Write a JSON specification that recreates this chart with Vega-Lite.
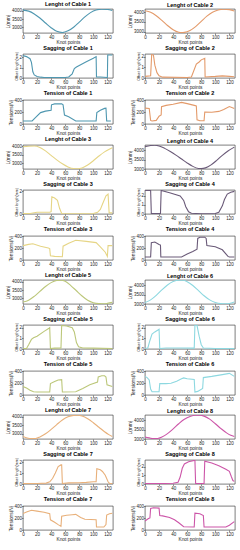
{
"$schema": "https://vega.github.io/schema/vega-lite/v6.json",
"padding": {"left": 5, "top": 1, "right": 2, "bottom": 0},
"spacing": {"row": 0, "column": 13},
"columns": 2,
"datasets": {
"L1": [{"k":0,"v":4050},{"k":8,"v":3990},{"k":16,"v":3820},{"k":24,"v":3570},{"k":32,"v":3270},{"k":40,"v":2980},{"k":48,"v":2760},{"k":56,"v":2690},{"k":64,"v":2790},{"k":72,"v":3010},{"k":80,"v":3320},{"k":88,"v":3640},{"k":96,"v":3900},{"k":104,"v":4060},{"k":112,"v":4115},{"k":120,"v":4100},{"k":127,"v":4030}],
"L2": [{"k":0,"v":4080},{"k":8,"v":4000},{"k":16,"v":3820},{"k":24,"v":3580},{"k":32,"v":3320},{"k":40,"v":3100},{"k":48,"v":2970},{"k":52,"v":2950},{"k":56,"v":2960},{"k":64,"v":3060},{"k":72,"v":3260},{"k":80,"v":3530},{"k":88,"v":3800},{"k":96,"v":4000},{"k":104,"v":4120},{"k":112,"v":4160},{"k":120,"v":4140},{"k":127,"v":4070}],
"L3": [{"k":0,"v":3960},{"k":8,"v":3990},{"k":16,"v":4000},{"k":24,"v":3920},{"k":32,"v":3720},{"k":40,"v":3460},{"k":48,"v":3200},{"k":56,"v":2970},{"k":64,"v":2790},{"k":72,"v":2690},{"k":78,"v":2680},{"k":84,"v":2730},{"k":92,"v":2900},{"k":100,"v":3150},{"k":108,"v":3420},{"k":116,"v":3660},{"k":122,"v":3800},{"k":127,"v":3900}],
"L4": [{"k":0,"v":4190},{"k":8,"v":4250},{"k":14,"v":4265},{"k":20,"v":4230},{"k":28,"v":4100},{"k":36,"v":3930},{"k":44,"v":3740},{"k":52,"v":3530},{"k":60,"v":3320},{"k":68,"v":3140},{"k":76,"v":3030},{"k":80,"v":3020},{"k":86,"v":3060},{"k":94,"v":3220},{"k":102,"v":3460},{"k":110,"v":3730},{"k":118,"v":3960},{"k":124,"v":4100},{"k":127,"v":4160}],
"L5": [{"k":0,"v":2770},{"k":8,"v":2880},{"k":16,"v":3120},{"k":24,"v":3420},{"k":32,"v":3720},{"k":40,"v":3960},{"k":48,"v":4090},{"k":54,"v":4110},{"k":60,"v":4040},{"k":68,"v":3780},{"k":76,"v":3460},{"k":84,"v":3140},{"k":92,"v":2880},{"k":100,"v":2730},{"k":108,"v":2670},{"k":114,"v":2660},{"k":120,"v":2690},{"k":127,"v":2750}],
"L6": [{"k":0,"v":3080},{"k":8,"v":3220},{"k":16,"v":3460},{"k":24,"v":3760},{"k":32,"v":4020},{"k":40,"v":4200},{"k":48,"v":4275},{"k":54,"v":4270},{"k":60,"v":4190},{"k":68,"v":3990},{"k":76,"v":3720},{"k":84,"v":3440},{"k":92,"v":3220},{"k":100,"v":3080},{"k":108,"v":3020},{"k":114,"v":3010},{"k":120,"v":3030},{"k":127,"v":3110}],
"L7": [{"k":0,"v":2830},{"k":6,"v":2740},{"k":12,"v":2700},{"k":18,"v":2710},{"k":24,"v":2800},{"k":32,"v":2990},{"k":40,"v":3250},{"k":48,"v":3540},{"k":56,"v":3810},{"k":64,"v":4000},{"k":72,"v":4090},{"k":78,"v":4100},{"k":84,"v":4050},{"k":92,"v":3890},{"k":100,"v":3650},{"k":108,"v":3380},{"k":116,"v":3110},{"k":122,"v":2940},{"k":127,"v":2830}],
"L8": [{"k":0,"v":3100},{"k":6,"v":3060},{"k":12,"v":3020},{"k":18,"v":3030},{"k":24,"v":3110},{"k":32,"v":3290},{"k":40,"v":3540},{"k":48,"v":3820},{"k":56,"v":4060},{"k":64,"v":4210},{"k":72,"v":4275},{"k":78,"v":4280},{"k":84,"v":4230},{"k":92,"v":4070},{"k":100,"v":3820},{"k":108,"v":3560},{"k":116,"v":3330},{"k":122,"v":3200},{"k":127,"v":3130}],
"S1": [{"k":0,"v":2.15},{"k":5,"v":2.05},{"k":10,"v":1.85},{"k":12,"v":1.5},{"k":14,"v":0.6},{"k":16,"v":0.3},{"k":20,"v":0.15},{"k":25,"v":0.08},{"k":30,"v":0.05},{"k":60,"v":0.05},{"k":65,"v":0.1},{"k":70,"v":0.4},{"k":73,"v":0.9},{"k":76,"v":1.05},{"k":80,"v":1.2},{"k":90,"v":1.55},{"k":100,"v":1.9},{"k":104,"v":2.05},{"k":104.5,"v":0.1},{"k":110,"v":0.1},{"k":120,"v":0.05},{"k":120.5,"v":2.2},{"k":127,"v":2.2}],
"S2": [{"k":0,"v":0.15},{"k":8,"v":0.2},{"k":9.5,"v":2.2},{"k":12,"v":2.15},{"k":14,"v":1.2},{"k":17,"v":0.5},{"k":20,"v":0.2},{"k":25,"v":0.08},{"k":60,"v":0.05},{"k":66,"v":0.1},{"k":73,"v":1.3},{"k":77,"v":1.5},{"k":80,"v":1.7},{"k":85,"v":1.85},{"k":85.5,"v":0.1},{"k":100,"v":0.15},{"k":110,"v":0.2},{"k":120,"v":0.15},{"k":127,"v":0.12}],
"S3": [{"k":0,"v":0.05},{"k":10,"v":0.05},{"k":20,"v":0.15},{"k":30,"v":0.15},{"k":38,"v":0.15},{"k":40,"v":0.2},{"k":41,"v":1.5},{"k":45,"v":1.4},{"k":49,"v":1.2},{"k":52,"v":0.5},{"k":55,"v":0.05},{"k":80,"v":0.02},{"k":100,"v":0.05},{"k":106,"v":0.15},{"k":110,"v":0.4},{"k":114,"v":1.0},{"k":118,"v":1.6},{"k":121,"v":1.75},{"k":122.5,"v":0.1},{"k":127,"v":0.1}],
"S4": [{"k":0,"v":2.6},{"k":8,"v":2.6},{"k":9,"v":0.05},{"k":22,"v":0.05},{"k":23,"v":2.6},{"k":35,"v":2.35},{"k":50,"v":2.0},{"k":55,"v":1.5},{"k":58,"v":0.8},{"k":62,"v":0.25},{"k":66,"v":0.08},{"k":80,"v":0.03},{"k":100,"v":0.05},{"k":105,"v":0.2},{"k":110,"v":0.9},{"k":113,"v":1.6},{"k":117,"v":2.2},{"k":122,"v":2.4},{"k":127,"v":2.5}],
"S5": [{"k":0,"v":0.05},{"k":5,"v":0.05},{"k":8,"v":0.4},{"k":12,"v":0.9},{"k":15,"v":1.05},{"k":20,"v":1.2},{"k":30,"v":1.65},{"k":37,"v":1.95},{"k":38,"v":2.0},{"k":39,"v":0.05},{"k":45,"v":0.08},{"k":54,"v":0.1},{"k":55,"v":2.2},{"k":62,"v":2.15},{"k":70,"v":2.0},{"k":73,"v":1.6},{"k":76,"v":0.6},{"k":79,"v":0.2},{"k":85,"v":0.1},{"k":100,"v":0.08},{"k":127,"v":0.05}],
"S6": [{"k":0,"v":0.05},{"k":4,"v":0.1},{"k":7,"v":0.8},{"k":10,"v":1.4},{"k":14,"v":1.6},{"k":19,"v":1.8},{"k":20,"v":1.85},{"k":21,"v":0.05},{"k":30,"v":0.1},{"k":50,"v":0.1},{"k":70,"v":0.08},{"k":71,"v":2.2},{"k":74,"v":2.2},{"k":77,"v":1.2},{"k":80,"v":0.4},{"k":83,"v":0.1},{"k":100,"v":0.05},{"k":127,"v":0.05}],
"S7": [{"k":0,"v":0.05},{"k":20,"v":0.05},{"k":33,"v":0.08},{"k":38,"v":0.2},{"k":42,"v":0.5},{"k":46,"v":1.0},{"k":50,"v":1.6},{"k":54,"v":1.75},{"k":55,"v":1.75},{"k":56,"v":0.05},{"k":65,"v":0.1},{"k":80,"v":0.12},{"k":90,"v":0.15},{"k":100,"v":0.2},{"k":104,"v":0.2},{"k":105,"v":1.4},{"k":110,"v":1.3},{"k":113,"v":1.15},{"k":117,"v":0.8},{"k":121,"v":0.2},{"k":123,"v":0.05},{"k":127,"v":0.05}],
"S8": [{"k":0,"v":0.05},{"k":20,"v":0.05},{"k":40,"v":0.08},{"k":47,"v":0.2},{"k":50,"v":0.8},{"k":53,"v":1.8},{"k":56,"v":2.3},{"k":62,"v":2.55},{"k":70,"v":2.7},{"k":71,"v":2.7},{"k":72,"v":0.05},{"k":84,"v":0.05},{"k":85,"v":2.6},{"k":95,"v":2.4},{"k":105,"v":2.1},{"k":115,"v":1.7},{"k":120,"v":1.45},{"k":123,"v":0.8},{"k":125,"v":0.4},{"k":127,"v":0.3}],
"T1": [{"k":0,"v":50},{"k":13,"v":50},{"k":18,"v":110},{"k":25,"v":190},{"k":32,"v":215},{"k":40,"v":230},{"k":40.5,"v":320},{"k":45,"v":335},{"k":55,"v":335},{"k":57,"v":320},{"k":59,"v":150},{"k":65,"v":120},{"k":75,"v":50},{"k":104,"v":50},{"k":105,"v":190},{"k":110,"v":230},{"k":116,"v":260},{"k":118,"v":265},{"k":119,"v":50},{"k":125,"v":50}],
"T2": [{"k":0,"v":265},{"k":6,"v":260},{"k":8,"v":60},{"k":10,"v":50},{"k":16,"v":60},{"k":20,"v":130},{"k":23,"v":150},{"k":23.5,"v":290},{"k":30,"v":310},{"k":40,"v":330},{"k":52,"v":360},{"k":60,"v":340},{"k":70,"v":310},{"k":73,"v":300},{"k":74,"v":70},{"k":78,"v":55},{"k":84,"v":55},{"k":85,"v":200},{"k":95,"v":195},{"k":105,"v":210},{"k":112,"v":240},{"k":120,"v":290},{"k":127,"v":260}],
"T3": [{"k":0,"v":240},{"k":8,"v":260},{"k":14,"v":270},{"k":25,"v":230},{"k":36,"v":200},{"k":38,"v":190},{"k":39,"v":70},{"k":45,"v":60},{"k":56,"v":55},{"k":57,"v":230},{"k":65,"v":280},{"k":75,"v":330},{"k":90,"v":310},{"k":104,"v":290},{"k":110,"v":220},{"k":117,"v":130},{"k":120,"v":60},{"k":121,"v":240},{"k":127,"v":240}],
"T4": [{"k":0,"v":50},{"k":8,"v":50},{"k":9,"v":290},{"k":14,"v":300},{"k":20,"v":260},{"k":22,"v":250},{"k":22.5,"v":50},{"k":52,"v":50},{"k":60,"v":100},{"k":68,"v":140},{"k":74,"v":180},{"k":75,"v":360},{"k":78,"v":380},{"k":85,"v":380},{"k":87,"v":360},{"k":88,"v":240},{"k":100,"v":220},{"k":110,"v":170},{"k":118,"v":60},{"k":120,"v":50},{"k":127,"v":50}],
"T5": [{"k":0,"v":140},{"k":5,"v":115},{"k":10,"v":80},{"k":15,"v":55},{"k":20,"v":50},{"k":38,"v":50},{"k":39,"v":190},{"k":45,"v":225},{"k":50,"v":250},{"k":55,"v":255},{"k":56,"v":50},{"k":75,"v":55},{"k":85,"v":110},{"k":95,"v":170},{"k":106,"v":215},{"k":107,"v":300},{"k":112,"v":320},{"k":116,"v":320},{"k":118,"v":300},{"k":119.5,"v":170},{"k":127,"v":140}],
"T6": [{"k":0,"v":310},{"k":3,"v":290},{"k":6,"v":250},{"k":8,"v":100},{"k":10,"v":55},{"k":20,"v":55},{"k":21,"v":190},{"k":30,"v":190},{"k":37,"v":195},{"k":45,"v":230},{"k":52,"v":270},{"k":55,"v":285},{"k":60,"v":270},{"k":70,"v":260},{"k":71,"v":50},{"k":75,"v":60},{"k":82,"v":110},{"k":83,"v":290},{"k":95,"v":310},{"k":110,"v":340},{"k":120,"v":360},{"k":127,"v":310}],
"T7": [{"k":0,"v":275},{"k":5,"v":300},{"k":12,"v":330},{"k":20,"v":315},{"k":30,"v":295},{"k":38,"v":270},{"k":39,"v":170},{"k":45,"v":130},{"k":50,"v":90},{"k":54,"v":60},{"k":55,"v":230},{"k":62,"v":245},{"k":70,"v":255},{"k":75,"v":260},{"k":82,"v":210},{"k":88,"v":180},{"k":104,"v":170},{"k":104.5,"v":50},{"k":115,"v":50},{"k":118,"v":90},{"k":119,"v":250},{"k":123,"v":270},{"k":127,"v":280}],
"T8": [{"k":0,"v":150},{"k":5,"v":190},{"k":7,"v":200},{"k":8,"v":360},{"k":12,"v":370},{"k":20,"v":365},{"k":21,"v":240},{"k":25,"v":235},{"k":35,"v":210},{"k":42,"v":170},{"k":48,"v":120},{"k":55,"v":55},{"k":70,"v":50},{"k":71,"v":280},{"k":78,"v":270},{"k":83,"v":240},{"k":84,"v":50},{"k":115,"v":50},{"k":120,"v":80},{"k":127,"v":140}]
},
"concat": [
{"title":"Lenght of Cable 1","data":{"name":"L1"},"mark":{"type":"line","color":"#4f97b0","interpolate":"monotone","clip":true},"encoding":{"x":{"field":"k","type":"quantitative","scale":{"domain":[0,128],"nice":false},"axis":{"title":"Knot points","values":[0,20,40,60,80,100,120]}},"y":{"field":"v","type":"quantitative","scale":{"domain":[2660,4120],"nice":false,"zero":false},"axis":{"title":"L(mm)","format":"d","values":[3000,3500,4000]}}}},
{"title":"Lenght of Cable 2","data":{"name":"L2"},"mark":{"type":"line","color":"#e39a6a","interpolate":"monotone","clip":true},"encoding":{"x":{"field":"k","type":"quantitative","scale":{"domain":[0,128],"nice":false},"axis":{"title":"Knot points","values":[0,20,40,60,80,100,120]}},"y":{"field":"v","type":"quantitative","scale":{"domain":[2930,4170],"nice":false,"zero":false},"axis":{"title":"L(mm)","format":"d","values":[3000,3500,4000]}}}},
{"title":"Sagging of Cable 1","data":{"name":"S1"},"mark":{"type":"line","color":"#4f97b0","clip":true},"encoding":{"x":{"field":"k","type":"quantitative","scale":{"domain":[0,128],"nice":false},"axis":{"title":"Knot points","values":[0,20,40,60,80,100,120]}},"y":{"field":"v","type":"quantitative","scale":{"domain":[0,2.3],"nice":false},"axis":{"title":"Offset length(mm)","titleFontSize":3.6,"format":"d","values":[0,1,2]}}}},
{"title":"Sagging of Cable 2","data":{"name":"S2"},"mark":{"type":"line","color":"#e39a6a","clip":true},"encoding":{"x":{"field":"k","type":"quantitative","scale":{"domain":[0,128],"nice":false},"axis":{"title":"Knot points","values":[0,20,40,60,80,100,120]}},"y":{"field":"v","type":"quantitative","scale":{"domain":[0,2.25],"nice":false},"axis":{"title":"Offset length(mm)","titleFontSize":3.6,"format":"d","values":[0,1,2]}}}},
{"title":"Tension of Cable 1","data":{"name":"T1"},"mark":{"type":"line","color":"#4f97b0","clip":true},"encoding":{"x":{"field":"k","type":"quantitative","scale":{"domain":[0,128],"nice":false},"axis":{"title":"Knot points","values":[0,20,40,60,80,100,120]}},"y":{"field":"v","type":"quantitative","scale":{"domain":[0,400],"nice":false},"axis":{"title":"Tensions(N)","values":[0,200,400]}}}},
{"title":"Tension of Cable 2","data":{"name":"T2"},"mark":{"type":"line","color":"#e39a6a","clip":true},"encoding":{"x":{"field":"k","type":"quantitative","scale":{"domain":[0,128],"nice":false},"axis":{"title":"Knot points","values":[0,20,40,60,80,100,120]}},"y":{"field":"v","type":"quantitative","scale":{"domain":[0,400],"nice":false},"axis":{"title":"Tensions(N)","values":[0,200,400]}}}},
{"title":"Lenght of Cable 3","data":{"name":"L3"},"mark":{"type":"line","color":"#e6d585","interpolate":"monotone","clip":true},"encoding":{"x":{"field":"k","type":"quantitative","scale":{"domain":[0,128],"nice":false},"axis":{"title":"Knot points","values":[0,20,40,60,80,100,120]}},"y":{"field":"v","type":"quantitative","scale":{"domain":[2670,4060],"nice":false,"zero":false},"axis":{"title":"L(mm)","format":"d","values":[3000,3500,4000]}}}},
{"title":"Lenght of Cable 4","data":{"name":"L4"},"mark":{"type":"line","color":"#6a5a78","interpolate":"monotone","clip":true},"encoding":{"x":{"field":"k","type":"quantitative","scale":{"domain":[0,128],"nice":false},"axis":{"title":"Knot points","values":[0,20,40,60,80,100,120]}},"y":{"field":"v","type":"quantitative","scale":{"domain":[3000,4280],"nice":false,"zero":false},"axis":{"title":"L(mm)","format":"d","values":[3000,3500,4000]}}}},
{"title":"Sagging of Cable 3","data":{"name":"S3"},"mark":{"type":"line","color":"#e6d585","clip":true},"encoding":{"x":{"field":"k","type":"quantitative","scale":{"domain":[0,128],"nice":false},"axis":{"title":"Knot points","values":[0,20,40,60,80,100,120]}},"y":{"field":"v","type":"quantitative","scale":{"domain":[0,2.1],"nice":false},"axis":{"title":"Offset length(mm)","titleFontSize":3.6,"format":"d","values":[0,1,2]}}}},
{"title":"Sagging of Cable 4","data":{"name":"S4"},"mark":{"type":"line","color":"#6a5a78","clip":true},"encoding":{"x":{"field":"k","type":"quantitative","scale":{"domain":[0,128],"nice":false},"axis":{"title":"Knot points","values":[0,20,40,60,80,100,120]}},"y":{"field":"v","type":"quantitative","scale":{"domain":[0,2.65],"nice":false},"axis":{"title":"Offset length(mm)","titleFontSize":3.6,"format":"d","values":[0,1,2]}}}},
{"title":"Tension of Cable 3","data":{"name":"T3"},"mark":{"type":"line","color":"#e6d585","clip":true},"encoding":{"x":{"field":"k","type":"quantitative","scale":{"domain":[0,128],"nice":false},"axis":{"title":"Knot points","values":[0,20,40,60,80,100,120]}},"y":{"field":"v","type":"quantitative","scale":{"domain":[0,400],"nice":false},"axis":{"title":"Tensions(N)","values":[0,200,400]}}}},
{"title":"Tension of Cable 4","data":{"name":"T4"},"mark":{"type":"line","color":"#6a5a78","clip":true},"encoding":{"x":{"field":"k","type":"quantitative","scale":{"domain":[0,128],"nice":false},"axis":{"title":"Knot points","values":[0,20,40,60,80,100,120]}},"y":{"field":"v","type":"quantitative","scale":{"domain":[0,400],"nice":false},"axis":{"title":"Tensions(N)","values":[0,200,400]}}}},
{"title":"Lenght of Cable 5","data":{"name":"L5"},"mark":{"type":"line","color":"#bcc77a","interpolate":"monotone","clip":true},"encoding":{"x":{"field":"k","type":"quantitative","scale":{"domain":[0,128],"nice":false},"axis":{"title":"Knot points","values":[0,20,40,60,80,100,120]}},"y":{"field":"v","type":"quantitative","scale":{"domain":[2650,4120],"nice":false,"zero":false},"axis":{"title":"L(mm)","format":"d","values":[3000,3500,4000]}}}},
{"title":"Lenght of Cable 6","data":{"name":"L6"},"mark":{"type":"line","color":"#8dd8e0","interpolate":"monotone","clip":true},"encoding":{"x":{"field":"k","type":"quantitative","scale":{"domain":[0,128],"nice":false},"axis":{"title":"Knot points","values":[0,20,40,60,80,100,120]}},"y":{"field":"v","type":"quantitative","scale":{"domain":[3000,4285],"nice":false,"zero":false},"axis":{"title":"L(mm)","format":"d","values":[3000,3500,4000]}}}},
{"title":"Sagging of Cable 5","data":{"name":"S5"},"mark":{"type":"line","color":"#bcc77a","clip":true},"encoding":{"x":{"field":"k","type":"quantitative","scale":{"domain":[0,128],"nice":false},"axis":{"title":"Knot points","values":[0,20,40,60,80,100,120]}},"y":{"field":"v","type":"quantitative","scale":{"domain":[0,2.25],"nice":false},"axis":{"title":"Offset length(mm)","titleFontSize":3.6,"format":"d","values":[0,1,2]}}}},
{"title":"Sagging of Cable 6","data":{"name":"S6"},"mark":{"type":"line","color":"#8dd8e0","clip":true},"encoding":{"x":{"field":"k","type":"quantitative","scale":{"domain":[0,128],"nice":false},"axis":{"title":"Knot points","values":[0,20,40,60,80,100,120]}},"y":{"field":"v","type":"quantitative","scale":{"domain":[0,2.25],"nice":false},"axis":{"title":"Offset length(mm)","titleFontSize":3.6,"format":"d","values":[0,1,2]}}}},
{"title":"Tension of Cable 5","data":{"name":"T5"},"mark":{"type":"line","color":"#bcc77a","clip":true},"encoding":{"x":{"field":"k","type":"quantitative","scale":{"domain":[0,128],"nice":false},"axis":{"title":"Knot points","values":[0,20,40,60,80,100,120]}},"y":{"field":"v","type":"quantitative","scale":{"domain":[0,400],"nice":false},"axis":{"title":"Tensions(N)","values":[0,200,400]}}}},
{"title":"Tension of Cable 6","data":{"name":"T6"},"mark":{"type":"line","color":"#8dd8e0","clip":true},"encoding":{"x":{"field":"k","type":"quantitative","scale":{"domain":[0,128],"nice":false},"axis":{"title":"Knot points","values":[0,20,40,60,80,100,120]}},"y":{"field":"v","type":"quantitative","scale":{"domain":[0,400],"nice":false},"axis":{"title":"Tensions(N)","values":[0,200,400]}}}},
{"title":"Lenght of Cable 7","data":{"name":"L7"},"mark":{"type":"line","color":"#e8b07a","interpolate":"monotone","clip":true},"encoding":{"x":{"field":"k","type":"quantitative","scale":{"domain":[0,128],"nice":false},"axis":{"title":"Knot points","values":[0,20,40,60,80,100,120]}},"y":{"field":"v","type":"quantitative","scale":{"domain":[2680,4110],"nice":false,"zero":false},"axis":{"title":"L(mm)","format":"d","values":[3000,3500,4000]}}}},
{"title":"Lenght of Cable 8","data":{"name":"L8"},"mark":{"type":"line","color":"#cc55a8","interpolate":"monotone","clip":true},"encoding":{"x":{"field":"k","type":"quantitative","scale":{"domain":[0,128],"nice":false},"axis":{"title":"Knot points","values":[0,20,40,60,80,100,120]}},"y":{"field":"v","type":"quantitative","scale":{"domain":[3000,4290],"nice":false,"zero":false},"axis":{"title":"L(mm)","format":"d","values":[3000,3500,4000]}}}},
{"title":"Sagging of Cable 7","data":{"name":"S7"},"mark":{"type":"line","color":"#e8b07a","clip":true},"encoding":{"x":{"field":"k","type":"quantitative","scale":{"domain":[0,128],"nice":false},"axis":{"title":"Knot points","values":[0,20,40,60,80,100,120]}},"y":{"field":"v","type":"quantitative","scale":{"domain":[0,2.2],"nice":false},"axis":{"title":"Offset length(mm)","titleFontSize":3.6,"format":"d","values":[0,1,2]}}}},
{"title":"Sagging of Cable 8","data":{"name":"S8"},"mark":{"type":"line","color":"#cc55a8","clip":true},"encoding":{"x":{"field":"k","type":"quantitative","scale":{"domain":[0,128],"nice":false},"axis":{"title":"Knot points","values":[0,20,40,60,80,100,120]}},"y":{"field":"v","type":"quantitative","scale":{"domain":[0,2.75],"nice":false},"axis":{"title":"Offset length(mm)","titleFontSize":3.6,"format":"d","values":[0,1,2]}}}},
{"title":"Tension of Cable 7","data":{"name":"T7"},"mark":{"type":"line","color":"#e8b07a","clip":true},"encoding":{"x":{"field":"k","type":"quantitative","scale":{"domain":[0,128],"nice":false},"axis":{"title":"Knot points","values":[0,20,40,60,80,100,120]}},"y":{"field":"v","type":"quantitative","scale":{"domain":[0,400],"nice":false},"axis":{"title":"Tensions(N)","values":[0,200,400]}}}},
{"title":"Tension of Cable 8","data":{"name":"T8"},"mark":{"type":"line","color":"#cc55a8","clip":true},"encoding":{"x":{"field":"k","type":"quantitative","scale":{"domain":[0,128],"nice":false},"axis":{"title":"Knot points","values":[0,20,40,60,80,100,120]}},"y":{"field":"v","type":"quantitative","scale":{"domain":[0,400],"nice":false},"axis":{"title":"Tensions(N)","values":[0,200,400]}}}}
],
"config": {
"font": "Liberation Sans",
"background": "white",
"view": {"stroke": "#262626", "strokeWidth": 0.6, "continuousWidth": 90, "continuousHeight": 24},
"axis": {"grid": false, "domain": false, "labelFontSize": 4.5, "titleFontSize": 4.8, "titleFontWeight": "normal", "labelColor": "#262626", "titleColor": "#262626", "tickColor": "#262626", "tickSize": 1.5, "tickWidth": 0.5, "labelPadding": 0, "titlePadding": 0.5, "labelFlush": false, "labelOverlap": false},
"title": {"fontSize": 5.5, "fontWeight": "bold", "offset": 0.5, "color": "#000000"},
"line": {"strokeWidth": 1.1}
}
}
